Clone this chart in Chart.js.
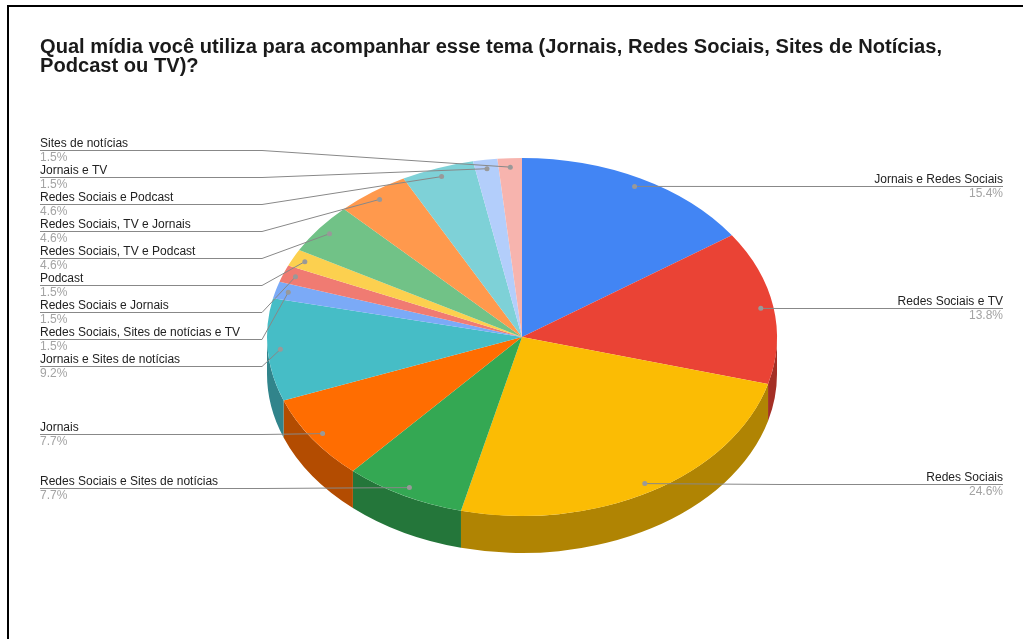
<!DOCTYPE html>
<html lang="pt-BR">
<head>
<meta charset="UTF-8">
<title>Mídia utilizada</title>
<script src="https://cdn.jsdelivr.net/npm/chart.js@4.4.1/dist/chart.umd.min.js"></script>
<style>
    html, body { margin: 0; padding: 0; background: #fff; }
    #wrap { position: relative; width: 1023px; height: 639px; overflow: hidden; }
    #wrap canvas { position: absolute; left: 0; top: 0; }
    #frame {
        position: absolute; left: 7px; top: 5px; right: -10px; bottom: -10px;
        border-top: 2px solid #000; border-left: 2px solid #000;
        pointer-events: none;
    }
</style>
</head>
<body>
<div id="wrap">
    <canvas id="pieChart" width="1023" height="639"></canvas>
    <div id="frame"></div>
</div>
<script>
// ============================================
// Data
// ============================================

const titleLines = [
    "Qual mídia você utiliza para acompanhar esse tema (Jornais, Redes Sociais, Sites de Notícias,",
    "Podcast ou TV)?",
];

const categories = [
    "Jornais e Redes Sociais",
    "Redes Sociais e TV",
    "Redes Sociais",
    "Redes Sociais e Sites de notícias",
    "Jornais",
    "Jornais e Sites de notícias",
    "Redes Sociais, Sites de notícias e TV",
    "Redes Sociais e Jornais",
    "Podcast",
    "Redes Sociais, TV e Podcast",
    "Redes Sociais, TV e Jornais",
    "Redes Sociais e Podcast",
    "Jornais e TV",
    "Sites de notícias",
];

// number of answers per option (65 in total)
const answers = [10, 9, 16, 5, 5, 6, 1, 1, 1, 3, 3, 3, 1, 1];

const sliceColors = [
    "#4285f4", "#ea4335", "#fbbc04", "#34a853", "#ff6d01", "#46bdc6", "#7baaf7",
    "#f07b72", "#fcd04f", "#71c287", "#ff994d", "#7ed1d7", "#b3cefb", "#f7b4ae",
];

// ============================================
// Look
// ============================================

const TILT = 0.702;        // vertical squash of the pie top
const DEPTH = 37;          // height of the side wall
const ANCHOR = 0.95;       // where the leader line dot sits, as share of the radius
const LABEL_GAP = 27;      // min distance between stacked labels
const LABEL_TOP = 150;
const LEFT_X = 40;
const RIGHT_X = 1003;
const FONT = "Arial, 'Liberation Sans', sans-serif";

function darken(hex, f) {
    const n = parseInt(hex.slice(1), 16);
    const r = Math.round(((n >> 16) & 255) * f);
    const g = Math.round(((n >> 8) & 255) * f);
    const b = Math.round((n & 255) * f);
    return `rgb(${r}, ${g}, ${b})`;
}

const wallColors = sliceColors.map((c) => darken(c, 0.7));

// ============================================
// Plugins
// ============================================

// side wall + squash the pie into an ellipse
const pie3d = {
    id: "pie3d",
    beforeDatasetsDraw(chart) {
        const ctx = chart.ctx;
        const arcs = chart.getDatasetMeta(0).data;
        const { x, y, outerRadius: r } = arcs[0];
        const ry = r * TILT;

        // only the front half (canvas angles 0..PI) shows its wall
        arcs.forEach((arc, i) => {
            const a1 = Math.max(arc.startAngle, 0);
            const a2 = Math.min(arc.endAngle, Math.PI);
            if (a2 <= a1) return;
            ctx.beginPath();
            ctx.ellipse(x, y, r, ry, 0, a1, a2);
            ctx.ellipse(x, y + DEPTH, r, ry, 0, a2, a1, true);
            ctx.closePath();
            ctx.fillStyle = wallColors[i];
            ctx.fill();
        });

        ctx.save();
        ctx.translate(x, y);
        ctx.scale(1, TILT);
        ctx.translate(-x, -y);
    },
    afterDatasetsDraw(chart) {
        chart.ctx.restore();
    },
};

// spread stacked labels so they don't overlap
function spreadLabels(items, gap, minY, maxY) {
    let clusters = items.map((it) => ({ items: [it], y: it.desired }));
    let merged = true;
    while (merged) {
        merged = false;
        for (let i = 1; i < clusters.length; i++) {
            const a = clusters[i - 1];
            const b = clusters[i];
            if (a.y + a.items.length * gap > b.y) {
                const all = a.items.concat(b.items);
                const mean = all.reduce((s, it, j) => s + it.desired - j * gap, 0) / all.length;
                const y = Math.min(Math.max(mean, minY), maxY - (all.length - 1) * gap);
                clusters.splice(i - 1, 2, { items: all, y });
                merged = true;
                break;
            }
        }
    }
    clusters.forEach((c) => c.items.forEach((it, j) => (it.y = c.y + j * gap)));
}

const sideLabels = {
    id: "sideLabels",
    afterDraw(chart) {
        const ctx = chart.ctx;
        const arcs = chart.getDatasetMeta(0).data;
        const { x: cx, y: cy, outerRadius: r } = arcs[0];
        const ry = r * TILT;
        const total = answers.reduce((s, v) => s + v, 0);

        const items = arcs.map((arc, i) => {
            const mid = (arc.startAngle + arc.endAngle) / 2;
            const ax = cx + Math.cos(mid) * r * ANCHOR;
            const ay = cy + Math.sin(mid) * ry * ANCHOR;
            return {
                name: categories[i],
                pct: ((answers[i] / total) * 100).toFixed(1) + "%",
                ax, ay, desired: ay, left: ax < cx,
            };
        });

        const left = items.filter((d) => d.left).sort((a, b) => a.desired - b.desired);
        const right = items.filter((d) => !d.left).sort((a, b) => a.desired - b.desired);
        spreadLabels(left, LABEL_GAP, LABEL_TOP, chart.height - 30);
        spreadLabels(right, LABEL_GAP, LABEL_TOP, chart.height - 30);

        ctx.save();
        ctx.lineWidth = 1;
        ctx.strokeStyle = "#888";
        ctx.font = `12px ${FONT}`;

        items.forEach((d) => {
            const ly = Math.round(d.y) + 0.5;
            const textX = d.left ? LEFT_X : RIGHT_X;
            const bendX = d.left ? cx - r - 5 : cx + r + 5;

            ctx.beginPath();
            ctx.moveTo(textX, ly);
            ctx.lineTo(bendX, ly);
            ctx.lineTo(d.ax, d.ay);
            ctx.stroke();

            ctx.beginPath();
            ctx.arc(d.ax, d.ay, 2.5, 0, Math.PI * 2);
            ctx.fillStyle = "#999";
            ctx.fill();

            ctx.textAlign = d.left ? "left" : "right";
            ctx.textBaseline = "alphabetic";
            ctx.fillStyle = "#222";
            ctx.fillText(d.name, textX, ly - 4);
            ctx.fillStyle = "#a3a3a3";
            ctx.fillText(d.pct, textX, ly + 10.5);
        });

        // title, slightly condensed
        ctx.font = `bold 20px ${FONT}`;
        ctx.fillStyle = "#1a1a1a";
        ctx.textAlign = "left";
        const squeeze = 902 / ctx.measureText(titleLines[0]).width;
        ctx.translate(40, 0);
        ctx.scale(squeeze, 1);
        ctx.fillText(titleLines[0], 0, 53);
        ctx.fillText(titleLines[1], 0, 72);
        ctx.restore();
    },
};

// ============================================
// Chart
// ============================================

const ctx = document.getElementById("pieChart").getContext("2d");

new Chart(ctx, {
    type: "pie",
    data: {
        labels: categories,
        datasets: [
            {
                data: answers,
                backgroundColor: sliceColors,
                borderWidth: 0,
                hoverOffset: 0,
                offset: 0,
            },
        ],
    },
    options: {
        responsive: false,
        animation: false,
        devicePixelRatio: 1,
        layout: {
            padding: { left: 267, right: 246, top: 82, bottom: 47 },
        },
        plugins: {
            legend: { display: false },
            tooltip: { enabled: false },
        },
    },
    plugins: [pie3d, sideLabels],
});
</script>
</body>
</html>
